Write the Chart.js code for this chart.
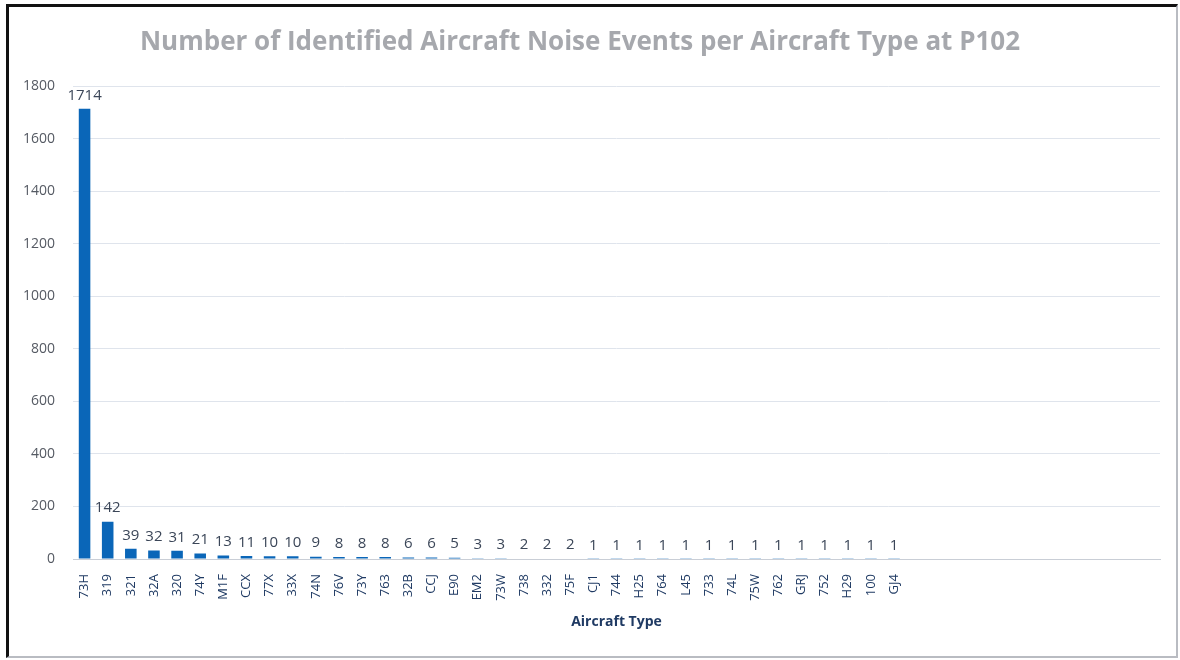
<!DOCTYPE html>
<html>
<head>
<meta charset="utf-8">
<script src="https://cdn.jsdelivr.net/npm/chart.js@4"></script>
<style>
  body { margin: 0; background: #fff; }
  #frame {
    position: absolute; left: 6px; top: 4px; width: 1172px; height: 654px;
    box-sizing: border-box;
    border-left: 3px solid #111; border-top: 3px solid #111;
    border-right: 2px solid #b9bcc2; border-bottom: 2px solid #b9bcc2;
  }
  #chart { position: absolute; left: 0; top: 0; }
</style>
</head>
<body>
<div id="frame"></div>
<canvas id="chart" width="1180" height="660"></canvas>
<script>
// tipos de avion y numero de eventos
const aircraftTypes = ["73H", "319", "321", "32A", "320", "74Y", "M1F", "CCX", "77X", "33X",
  "74N", "76V", "73Y", "763", "32B", "CCJ", "E90", "EM2", "73W", "738",
  "332", "75F", "CJ1", "744", "H25", "764", "L45", "733", "74L", "75W",
  "762", "GRJ", "752", "H29", "100", "GJ4"];
const noiseEvents = [1714, 142, 39, 32, 31, 21, 13, 11, 10, 10,
  9, 8, 8, 8, 6, 6, 5, 3, 3, 2,
  2, 2, 1, 1, 1, 1, 1, 1, 1, 1,
  1, 1, 1, 1, 1, 1];
// huecos vacios al final del eje
const spareSlots = ["", "", "", "", "", "", "", "", "", "", ""];
const yTicks = [0, 200, 400, 600, 800, 1000, 1200, 1400, 1600, 1800];

const ctx = document.getElementById("chart").getContext("2d");

// etiquetas de valor encima de cada barra
const valueLabels = {
  id: "valueLabels",
  afterDatasetsDraw(chart) {
    const c = chart.ctx;
    const meta = chart.getDatasetMeta(0);
    c.save();
    c.font = "15px 'Open Sans'";
    c.fillStyle = "#3b4658";
    c.textAlign = "center";
    c.textBaseline = "bottom";
    meta.data.forEach((bar, i) => {
      c.fillText(String(noiseEvents[i]), bar.x, bar.y - 6);
    });
    c.restore();
  },
};

new Chart(ctx, {
  type: "bar",
  data: {
    labels: aircraftTypes.concat(spareSlots),
    datasets: [
      {
        label: "Events",
        data: noiseEvents,
        backgroundColor: "#0a66b8",
        barPercentage: 0.5,
        categoryPercentage: 1,
      },
    ],
  },
  options: {
    responsive: false,
    animation: false,
    layout: { padding: { left: 0, right: 20, top: 0, bottom: 0 } },
    plugins: {
      legend: { display: false },
      tooltip: { enabled: false },
      title: {
        display: true,
        text: "Number of Identified Aircraft Noise Events per Aircraft Type at P102",
        color: "#a6a8ad",
        font: { family: "'Open Sans'", size: 26, weight: "bold" },
        padding: { top: 27, bottom: 28 },
      },
    },
    scales: {
      x: {
        grid: { display: false },
        border: { color: "#c9ced6", width: 1 },
        ticks: {
          autoSkip: false,
          minRotation: 90,
          maxRotation: 90,
          padding: 7,
          color: "#1f3a63",
          font: { family: "'Open Sans'", size: 13 },
        },
        title: {
          display: true,
          text: "Aircraft Type",
          color: "#1f3a63",
          font: { family: "'Open Sans'", size: 14, weight: "bold" },
          padding: { top: 4, bottom: 30 },
        },
        afterFit(scale) {
          scale.height = 101;
        },
      },
      y: {
        min: 0,
        max: 1800,
        afterBuildTicks(scale) {
          scale.ticks = yTicks.map((v) => ({ value: v }));
        },
        grid: { color: "#dfe4ec", drawTicks: false },
        border: { display: false },
        ticks: {
          padding: 18,
          color: "#555a63",
          font: { family: "'Open Sans'", size: 14 },
          callback: (v) => String(v),
        },
        afterFit(scale) {
          scale.width = 73;
        },
      },
    },
  },
  plugins: [valueLabels],
});
</script>
</body>
</html>
